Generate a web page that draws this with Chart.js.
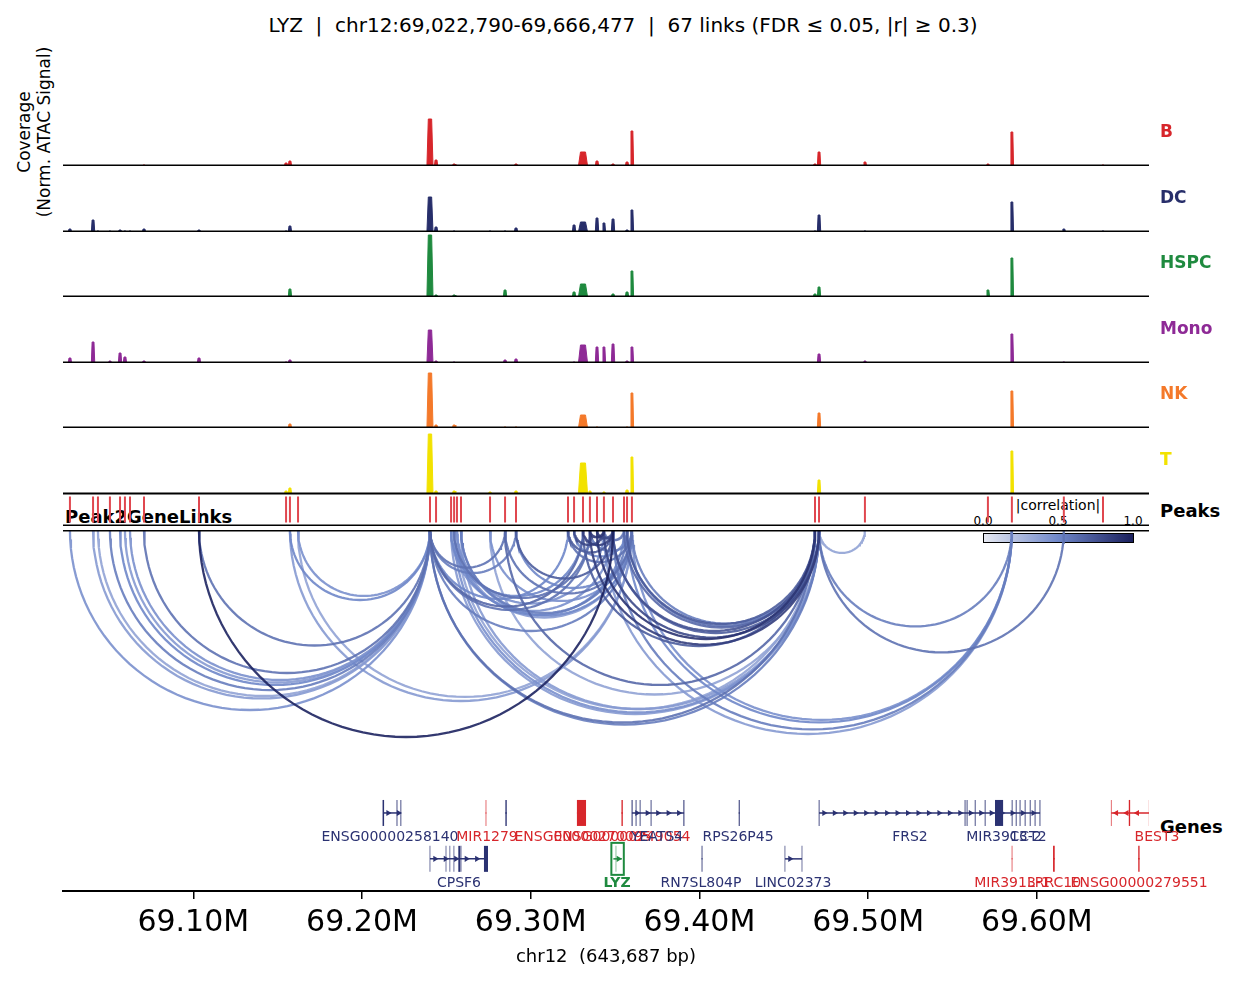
<!DOCTYPE html>
<html><head><meta charset="utf-8">
<script src="https://cdn.jsdelivr.net/npm/chart.js@4.4.0/dist/chart.umd.min.js"></script>
<style>
body{margin:0;background:#fff;width:1246px;height:982px;position:relative;overflow:hidden;font-family:"DejaVu Sans",sans-serif}
canvas{position:absolute;left:0}
.t{position:absolute;white-space:nowrap}
</style></head><body>
<div class="t" style="left:0;width:1246px;top:13px;text-align:center;font-size:20px">LYZ &nbsp;|&nbsp; chr12:69,022,790-69,666,477 &nbsp;|&nbsp; 67 links (FDR ≤ 0.05, |r| ≥ 0.3)</div>
<div class="t" style="left:-56px;top:112px;width:180px;text-align:center;transform:rotate(-90deg);font-size:17px;line-height:20px">Coverage<br>(Norm. ATAC Signal)</div>
<div class="t" style="left:1160px;top:500px;font-size:18px;font-weight:bold">Peaks</div>
<div class="t" style="left:65px;top:506px;font-size:18px;font-weight:bold">Peak2GeneLinks</div>
<div class="t" style="left:1160px;top:816px;font-size:18px;font-weight:bold">Genes</div>
<div class="t" style="left:1058px;top:497px;transform:translateX(-50%);font-size:14px">|correlation|</div>
<div class="t" style="left:983px;top:514px;transform:translateX(-50%);font-size:12px">0.0</div>
<div class="t" style="left:1058px;top:514px;transform:translateX(-50%);font-size:12px">0.5</div>
<div class="t" style="left:1133px;top:514px;transform:translateX(-50%);font-size:12px">1.0</div>
<div style="position:absolute;left:983px;top:533px;width:149px;height:8px;border:1px solid #000;background:linear-gradient(90deg,#e6e9f2,#6f87c9,#1a1f5c)"></div>
<script>
const X_MIN = 69.022790, X_MAX = 69.666477;
const cellTypes = ["B","DC","HSPC","Mono","NK","T"];
const cellColors = ["#d7262b","#272e6a","#1f8a3f","#8e2a96","#f4792a","#f2e200"];
const peaks = [69.0269,69.0406,69.0435,69.0506,69.0566,69.0595,69.0625,69.0708,69.1034,69.1550,69.1573,69.1621,69.2403,69.2439,69.2528,69.2546,69.2563,69.2587,69.2759,69.2848,69.2913,69.3221,69.3257,69.3310,69.3351,69.3393,69.3434,69.3488,69.3553,69.3571,69.3600,69.4685,69.4709,69.4981,69.5710,69.5852,69.6160,69.6392];
const peakHalfWidth = {12:0.0018, 23:0.0027};
const covB    = [0,0,0,0,0,0,0,1,0,3,5,0,47,6,0,2,0,0,0,0,2,0,0,14,0,5,0,2,0,4,35,2,14,4,2,34,0,1];
const covDC   = [3,12,1,1,2,1,1,3,2,1,6,0,35,5,0,1,0,0,1,1,4,0,7,10,0,14,9,13,0,2,22,1,17,1,0,30,3,1];
const covHSPC = [0,0,0,0,0,0,0,0,0,0,8,0,62,2,0,2,0,0,0,7,0,0,5,13,0,0,0,3,0,5,26,3,10,0,7,39,0,0];
const covMono = [5,21,0,2,10,6,0,2,5,1,3,0,33,2,0,1,0,0,0,3,4,0,1,18,0,16,16,19,0,2,16,0,9,2,0,29,1,0];
const covNK   = [0,0,0,0,0,0,0,0,0,0,4,0,55,3,0,3,0,0,0,1,1,0,0,13,0,1,0,0,0,1,35,0,15,0,0,37,0,0];
const covT    = [0,0,0,0,0,0,0,0,0,3,6,0,60,3,0,3,0,0,2,0,3,0,0,31,3,0,2,0,0,4,37,0,14,0,0,43,0,0];
const coverage = [covB,covDC,covHSPC,covMono,covNK,covT];
// links: [peakIndexA, peakIndexB, |r|]
const links = [[0,12,.45],[1,12,.4],[2,12,.35],[3,12,.55],[4,12,.5],[5,12,.4],[6,12,.45],[7,12,.6],[8,12,.6],[8,27,.98],[10,12,.5],[11,12,.45],[10,30,.4],[11,30,.35],
[12,19,.6],[12,20,.55],[12,21,.5],[12,23,.65],[12,24,.6],[12,30,.55],[12,31,.6],[12,32,.55],
[14,23,.5],[14,27,.45],[15,24,.6],[15,28,.5],[16,26,.45],[16,30,.4],[17,29,.55],[17,30,.5],[14,32,.4],[15,32,.45],[16,31,.35],[17,32,.4],
[18,30,.45],[18,32,.35],[19,30,.6],[19,31,.65],[20,27,.7],[20,30,.5],[21,27,.7],[21,30,.6],[22,26,.8],[23,27,.85],[24,26,.9],[25,27,.8],[26,28,.6],[24,30,.55],[22,29,.5],
[23,31,.7],[24,32,.85],[25,31,.9],[26,32,.8],[27,31,.75],[27,32,.7],[28,32,.65],[29,32,.6],[30,32,.55],[29,31,.7],
[27,35,.55],[29,35,.5],[30,35,.45],[32,33,.35],[32,35,.55],[32,36,.6],[26,35,.4]];
const NAVY="#2b3272", RED="#d7262b", GREEN="#1f8a3f";
// genes: name, start, end, strand, row, color, exons
const genes = [
 ["ENSG00000258140",69.2125,69.2231,1,1,NAVY,[[69.2122,69.2131],[69.2205,69.2210],[69.2228,69.2233]]],
 ["MIR1279",69.2733,69.2737,-1,1,RED,[[69.2733,69.2737]]],
 ["",69.2850,69.2858,1,1,NAVY,[[69.2850,69.2858]]],
 ["ENSG00000270095",69.3274,69.3328,-1,1,RED,[[69.3274,69.3328]]],
 ["",69.3538,69.3546,-1,1,RED,[[69.3538,69.3546]]],
 ["YEATS4",69.3600,69.3909,1,1,NAVY,[[69.3598,69.3604],[69.3622,69.3627],[69.3646,69.3651],[69.3711,69.3716],[69.3905,69.3911]]],
 ["RPS26P45",69.4233,69.4239,1,1,NAVY,[[69.4233,69.4239]]],
 ["FRS2",69.4709,69.6019,1,1,NAVY,[[69.4707,69.4712],[69.5572,69.5577],[69.5584,69.5589],[69.5632,69.5637],[69.5691,69.5696],[69.5752,69.5800],[69.5851,69.5856],[69.5875,69.5880],[69.5898,69.5903],[69.5928,69.5933],[69.5958,69.5963],[69.5987,69.5992],[69.6016,69.6021]]],
 ["BEST3",69.6441,69.6666,-1,1,RED,[[69.6439,69.6443],[69.6545,69.6553],[69.6664,69.6666]]],
 ["CPSF6",69.2403,69.2747,1,0,NAVY,[[69.2401,69.2405],[69.2496,69.2500],[69.2519,69.2523],[69.2543,69.2547],[69.2571,69.2583],[69.2585,69.2589],[69.2723,69.2747]]],
 ["LYZ",69.3490,69.3540,1,0,GREEN,[[69.3489,69.3492],[69.3504,69.3507],[69.3519,69.3522],[69.3537,69.3540]]],
 ["RN7SL804P",69.4013,69.4018,1,0,NAVY,[[69.4013,69.4018]]],
 ["LINC02373",69.4507,69.4608,1,0,NAVY,[[69.4505,69.4509],[69.4598,69.4602],[69.4606,69.4610]]],
 ["MIR3913-1",69.5851,69.5855,-1,0,RED,[[69.5851,69.5855]]],
 ["LRRC10",69.6096,69.6106,-1,0,RED,[[69.6096,69.6106]]],
 ["ENSG00000279551",69.6601,69.6609,-1,0,RED,[[69.6601,69.6609]]]
];
// gene labels: text, position, row, color, bold
const geneLabels = [
 ["ENSG00000258140",69.2166,1,NAVY,0],["MIR1279",69.2741,1,RED,0],["ENSG00000270095",69.3310,1,RED,0],["ENSG00000249054",69.3541,1,RED,0],
 ["YEATS4",69.3749,1,NAVY,0],["RPS26P45",69.4229,1,NAVY,0],["FRS2",69.5248,1,NAVY,0],["MIR3913-2",69.5805,1,NAVY,0],["CCT2",69.5948,1,NAVY,0],["BEST3",69.6712,1,RED,0],
 ["CPSF6",69.2575,0,NAVY,0],["LYZ",69.3512,0,GREEN,1],["RN7SL804P",69.4009,0,NAVY,0],["LINC02373",69.4555,0,NAVY,0],["MIR3913-1",69.5853,0,RED,0],["LRRC10",69.6102,0,RED,0],["ENSG00000279551",69.6606,0,RED,0]
];
const xTicks = [69.1,69.2,69.3,69.4,69.5,69.6];

const PADL = 63, PADR = 97, W = 1246;
function mkCanvas(top,h){const c=document.createElement('canvas');c.width=W;c.height=h;c.style.top=top+'px';document.body.appendChild(c);return c;}
function baseOpts(ymin,ymax){return {responsive:false,animation:false,events:[],layout:{autoPadding:false,padding:{left:PADL,right:PADR,top:0,bottom:0}},
 plugins:{legend:{display:false},tooltip:{enabled:false}},
 scales:{x:{type:'linear',min:X_MIN,max:X_MAX,display:false},y:{type:'linear',min:ymin,max:ymax,display:false}}};}
const lineAt=(where)=>({id:'l'+where,afterDraw(ch){const a=ch.chartArea,c=ch.ctx;c.save();c.strokeStyle='#000';c.lineWidth=1.5;
 const y=(where==='top'?a.top+0.75:a.bottom-0.75);c.beginPath();c.moveTo(a.left,y);c.lineTo(a.right,y);c.stroke();c.restore();}});

cellTypes.forEach((ct,k)=>{
 const top=100+65.5*k, cv=mkCanvas(top,66);
 const pts=[{x:X_MIN,y:0}];
 peaks.forEach((p,i)=>{const h=coverage[k][i]; if(!h) return; const hw=peakHalfWidth[i]||0.0010;
   pts.push({x:p-hw,y:0},{x:p-hw*0.55,y:h},{x:p+hw*0.55,y:h},{x:p+hw,y:0});});
 pts.push({x:X_MAX,y:0});
 new Chart(cv,{type:'line',data:{datasets:[{data:pts,borderColor:cellColors[k],backgroundColor:cellColors[k],fill:'origin',borderWidth:1,pointRadius:0,tension:0}]},
  options:baseOpts(0,66),plugins:[lineAt('bottom')]});
 const d=document.createElement('div');d.className='t';d.textContent=ct;
 d.style.cssText+=`left:1160px;top:${top+21}px;font-size:17px;font-weight:bold;color:${cellColors[k]}`;document.body.appendChild(d);
});

{const cv=mkCanvas(493,33);
 new Chart(cv,{type:'scatter',data:{datasets:[{data:peaks.map(p=>({x:p,y:0.5})),pointStyle:'line',pointRotation:90,pointRadius:13,pointBorderColor:'#e0474f',pointBorderWidth:2}]},
  options:baseOpts(0,1),plugins:[lineAt('top'),lineAt('bottom')]});}

function corrColor(r){const s=[[0,[225,229,240]],[0.5,[111,135,201]],[1,[26,31,92]]];
 let a=s[0],b=s[1]; if(r>0.5){a=s[1];b=s[2];} const t=(r-a[0])/(b[0]-a[0]);
 const c=a[1].map((v,i)=>Math.round(v+(b[1][i]-v)*t)); return `rgba(${c[0]},${c[1]},${c[2]},0.9)`;}
{const H=230, cv=mkCanvas(530,H);
 const yr=(X_MAX-X_MIN)*H/(W-PADL-PADR);
 const ds=links.map(([i,j,r])=>{const c=(peaks[i]+peaks[j])/2, rad=Math.abs(peaks[j]-peaks[i])/2, pts=[];
   for(let s=0;s<=60;s++){const th=Math.PI*s/60; pts.push({x:c-rad*Math.cos(th),y:-rad*Math.sin(th)});}
   return {data:pts,borderColor:corrColor(r),borderWidth:2.3,pointRadius:0,tension:0,fill:false,order:-r};});
 new Chart(cv,{type:'line',data:{datasets:ds},options:baseOpts(-yr,0),plugins:[lineAt('top')]});}

{const cv=mkCanvas(790,192);
 const ds=[];
 genes.forEach(g=>{const [name,s,e,str,row,col,ex]=g;
  ds.push({data:[{x:s,y:row},{x:e,y:row}],borderColor:col,borderWidth:1.5,pointRadius:0});
  ex.forEach(x=>ds.push({data:[{x:x[0],y:row},{x:x[1],y:row}],borderColor:col,borderWidth:26,borderCapStyle:'butt',pointRadius:0}));
  if(e-s>0.004){const arr=[];for(let p=s+0.003;p<e-0.001;p+=0.0062)arr.push({x:p,y:row});
   ds.push({type:'scatter',data:arr,pointStyle:'triangle',pointRotation:str>0?90:-90,pointRadius:3.5,pointBackgroundColor:col,pointBorderColor:col,pointBorderWidth:0});}
 });
 const o=baseOpts(-0.7,1.5);
 o.scales.x={type:'linear',min:X_MIN,max:X_MAX,display:true,afterFit:s=>{s.height=91;},
  afterBuildTicks:s=>{s.ticks=xTicks.map(v=>({value:v}));},
  ticks:{callback:v=>v.toFixed(2)+'M',font:{size:30,family:'DejaVu Sans'},color:'#000',padding:6,maxRotation:0},
  grid:{display:true,drawOnChartArea:false,drawTicks:true,tickLength:8,color:'#000',lineWidth:1.5},
  border:{display:true,color:'#000',width:2},
  title:{display:true,text:'chr12  (643,687 bp)',font:{size:18,family:'DejaVu Sans'},color:'#000',padding:{top:0,bottom:14}}};
 const labelPlugin={id:'gl',afterDraw(ch){const c=ch.ctx,xs=ch.scales.x,ys=ch.scales.y;c.save();c.textAlign='center';c.textBaseline='middle';
  geneLabels.forEach(([t,p,row,col,b])=>{c.font=(b?'bold ':'')+'14px "DejaVu Sans"';c.fillStyle=col;c.fillText(t,xs.getPixelForValue(p),ys.getPixelForValue(row)+24);});
  const g=genes.find(g=>g[0]==='LYZ');c.strokeStyle=GREEN;c.lineWidth=2;const x1=xs.getPixelForValue(g[1])-2,x2=xs.getPixelForValue(g[2])+2,y=ys.getPixelForValue(g[4]);
  c.strokeRect(x1,y-16,x2-x1,32);c.restore();}};
 new Chart(cv,{type:'line',data:{datasets:ds},options:o,plugins:[labelPlugin]});}
</script></body></html>
